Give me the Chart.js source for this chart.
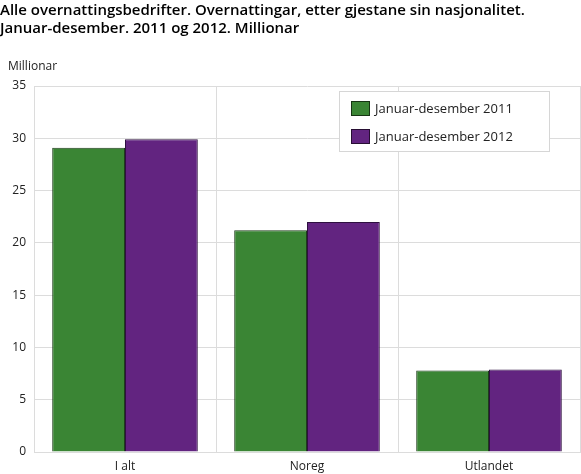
<!DOCTYPE html>
<html>
<head>
<meta charset="utf-8">
<script src="https://cdn.jsdelivr.net/npm/chart.js@4"></script>
<style>
  html, body { margin: 0; padding: 0; background: #fff; }
  #wrap { width: 581px; height: 474px; }
</style>
</head>
<body>
<div id="wrap"><canvas id="overnattingChart" width="581" height="474"></canvas></div>
<script>
// Data
const categories = ['I alt', 'Noreg', 'Utlandet'];
const series2011 = [29.1, 21.2, 7.8];
const series2012 = [29.9, 22.0, 7.9];
const seriesLabels = ['Januar-desember 2011', 'Januar-desember 2012'];
const yTicks = [0, 5, 10, 15, 20, 25, 30, 35];

const FONT = "'Open Sans', 'DejaVu Sans', sans-serif";

// Millionar-tekst over y-aksen og legende i boks
const extras = {
    id: 'extras',
    afterDraw(chart) {
        const c = chart.ctx;
        c.save();
        c.fillStyle = '#222';
        c.font = '12px ' + FONT;
        c.textBaseline = 'middle';
        c.textAlign = 'left';
        c.fillText('Millionar', 8, 67);

        // legende
        const bx = 339.5, by = 91.5, bw = 210, bh = 60;
        c.fillStyle = '#fff';
        c.fillRect(bx, by, bw, bh);
        c.strokeStyle = '#d6d6d6';
        c.lineWidth = 1;
        c.strokeRect(bx, by, bw, bh);
        c.font = '13px ' + FONT;
        chart.data.datasets.forEach(function(ds, i) {
            const y = 101 + i * 28;
            c.fillStyle = ds.backgroundColor;
            c.fillRect(351, y, 19, 15);
            c.strokeStyle = 'rgba(0,0,0,0.6)';
            c.strokeRect(351.5, y + 0.5, 18, 14);
            c.fillStyle = '#222';
            c.fillText(ds.label, 375, y + 8);
        });
        c.restore();
    }
};

const ctx = document.getElementById('overnattingChart').getContext('2d');
const overnattingChart = new Chart(ctx, {
    type: 'bar',
    data: {
        labels: categories,
        datasets: [{
            label: seriesLabels[0],
            data: series2011,
            backgroundColor: '#3a8534',
            borderColor: '#1f3d1c',
            borderWidth: 1,
            categoryPercentage: 0.8,
            barPercentage: 1.0
        }, {
            label: seriesLabels[1],
            data: series2012,
            backgroundColor: '#622480',
            borderColor: '#2e1040',
            borderWidth: 1,
            categoryPercentage: 0.8,
            barPercentage: 1.0
        }]
    },
    options: {
        responsive: false,
        animation: false,
        layout: { padding: { left: 0, right: 1, top: 0, bottom: 0 } },
        plugins: {
            legend: { display: false },
            tooltip: { enabled: false },
            title: {
                display: true,
                text: ['Alle overnattingsbedrifter. Overnattingar, etter gjestane sin nasjonalitet.',
                       'Januar-desember. 2011 og 2012. Millionar'],
                align: 'start',
                color: '#000',
                font: { family: FONT, size: 15, weight: '600', lineHeight: 1.2 },
                padding: { top: 2, bottom: 48 }
            }
        },
        scales: {
            x: {
                afterFit: function(scale) { scale.height = 22; },
                grid: { color: '#dcdcdc', drawTicks: false, offset: true },
                border: { color: '#dcdcdc' },
                ticks: { color: '#222', font: { family: FONT, size: 12 }, padding: 7 }
            },
            y: {
                min: 0,
                max: 35,
                afterBuildTicks: function(scale) {
                    scale.ticks = yTicks.map(function(v) { return { value: v }; });
                },
                afterFit: function(scale) { scale.width = 34; },
                grid: { color: '#dcdcdc', drawTicks: false },
                border: { color: '#dcdcdc' },
                ticks: { color: '#222', font: { family: FONT, size: 12 }, padding: 8 }
            }
        }
    },
    plugins: [extras]
});
</script>
</body>
</html>
